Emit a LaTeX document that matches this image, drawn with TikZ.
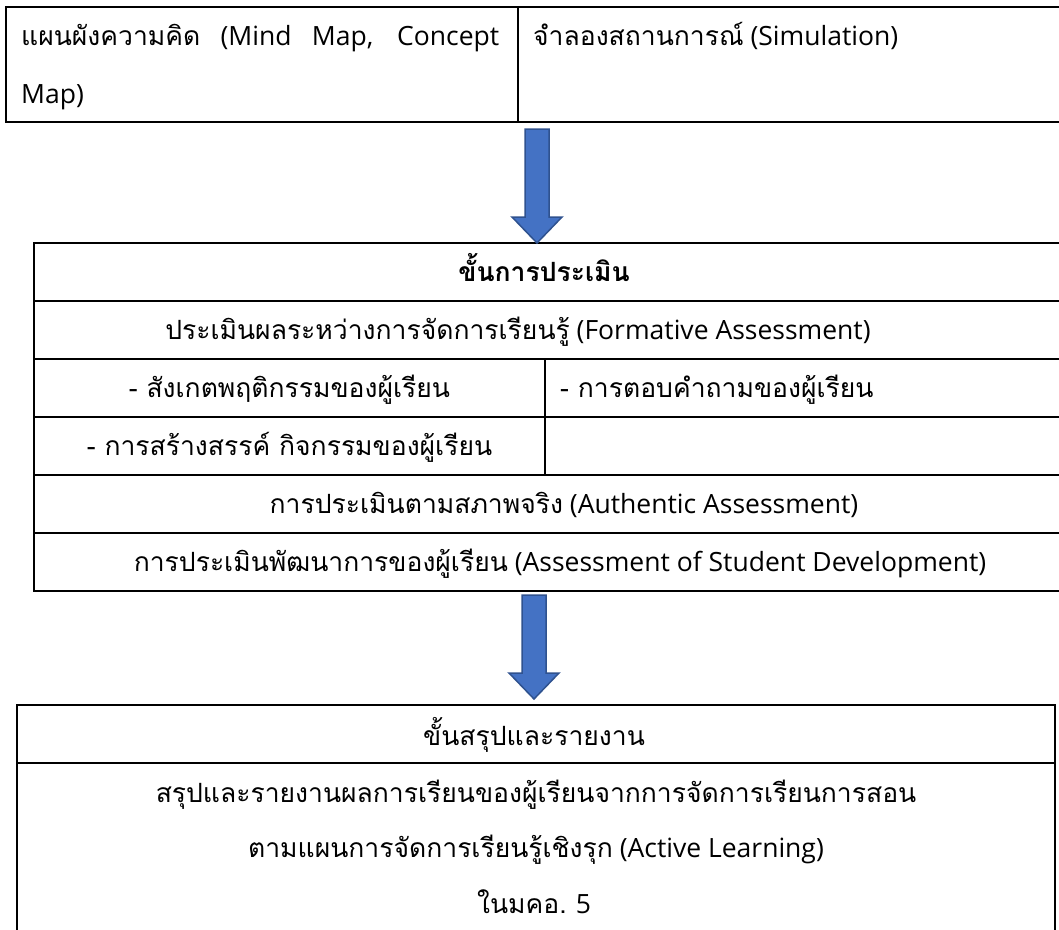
\documentclass[tikz,border=0pt]{standalone}
\usepackage{fontspec}
\setmainfont{Open Sans}
\newfontfamily\thai[Script=Thai]{Loma}
\usetikzlibrary{positioning,calc}
\definecolor{arrowblue}{HTML}{4472C4}
\definecolor{arrowedge}{HTML}{2F528F}
\begin{document}
\begin{tikzpicture}[x=1pt, y=-1pt,
    font=\fontsize{26.5}{58}\selectfont,
    cell/.style={rectangle, draw=black, line width=2.6pt, outer sep=0pt, inner sep=0pt},
    txt/.style={inner sep=0pt, anchor=base},
    bigarrow/.style={fill=arrowblue, draw=arrowedge, line width=1.5pt, line join=miter}]
    \clip (0,0) rectangle (1059,929);
    % Top table
    \node[cell, minimum width=512, minimum height=115, anchor=north west] (mmap) at (6,7) {};
    \node[cell, minimum width=557, minimum height=115, anchor=north west] (sim) at (mmap.north east) {};
    \node[txt, anchor=base west, align=left] (mmapt) at (21,103)
      {\makebox[478pt][s]{{\thai แผนผังความคิด} (Mind Map, Concept}\\Map)};
    \node[txt, anchor=base west] (simt) at (533,45) {{\thai จำลองสถานการณ์} (Simulation)};
    % Assessment step
    \node[cell, minimum width=1041, minimum height=58, anchor=north west] (evhead) at (34,243) {};
    \node[cell, minimum width=1041, minimum height=58, below=0pt of evhead] (evform) {};
    \node[cell, minimum width=511, minimum height=58, anchor=north west] (evobs) at (evform.south west) {};
    \node[cell, minimum width=530, minimum height=58, anchor=north west] (evans) at (evobs.north east) {};
    \node[cell, minimum width=511, minimum height=58, anchor=north west] (evcre) at (evobs.south west) {};
    \node[cell, minimum width=530, minimum height=58, anchor=north west] (evnone) at (evcre.north east) {};
    \node[cell, minimum width=1041, minimum height=58, anchor=north west] (evauth) at (evcre.south west) {};
    \node[cell, minimum width=1041, minimum height=58, below=0pt of evauth] (evdev) {};
    \node[txt] (evheadt) at (544,281) {\bfseries\thai ขั้นการประเมิน};
    \node[txt] (evformt) at (518,339) {{\thai ประเมินผลระหว่างการจัดการเรียนรู้} (Formative Assessment)};
    \node[txt] (evobst) at (evobs.center |- 0,397) {{\thai - สังเกตพฤติกรรมของผู้เรียน}};
    \node[txt, anchor=base west] (evanst) at (560,397) {{\thai - การตอบคำถามของผู้เรียน}};
    \node[txt] (evcret) at (evcre.center |- 0,455) {{\thai - การสร้างสรรค์ กิจกรรมของผู้เรียน}};
    \node[txt] (evautht) at (564,513) {{\thai การประเมินตามสภาพจริง} (Authentic Assessment)};
    \node[txt] (evdevt) at (560,571) {{\thai การประเมินพัฒนาการของผู้เรียน} (Assessment of Student Development)};
    % Summary step
    \node[cell, line width=2.2pt, minimum width=1038, minimum height=58, anchor=north west] (sumhead) at (17,705) {};
    \node[cell, line width=2.2pt, minimum width=1038, minimum height=200, below=0pt of sumhead] (sumbody) {};
    \node[txt] (sumheadt) at (534,745) {\thai ขั้นสรุปและรายงาน};
    \node[txt] (sumone) at (536,802) {\thai สรุปและรายงานผลการเรียนของผู้เรียนจากการจัดการเรียนการสอน};
    \node[txt] (sumtwo) at (536,857) {{\thai ตามแผนการจัดการเรียนรู้เชิงรุก} (Active Learning)};
    \node[txt] (sumthree) at (534,913) {{\thai ในมคอ.} 5};
    % Block arrows
    \coordinate (aonetop) at (537,129);
    \coordinate (aonetip) at (evhead.north -| 537,0);
    \coordinate (atwotop) at (534,595);
    \coordinate (atwotip) at (534,699);
    \foreach \s/\t in {aonetop/aonetip, atwotop/atwotip}
      \draw[bigarrow] ($(\s)+(-12,0)$) -- ($(\s)+(12,0)$) -- ($(\t)+(12,-26)$) -- ($(\t)+(25,-26)$)
        -- (\t) -- ($(\t)+(-25,-26)$) -- ($(\t)+(-12,-26)$) -- cycle;
\end{tikzpicture}
\end{document}
